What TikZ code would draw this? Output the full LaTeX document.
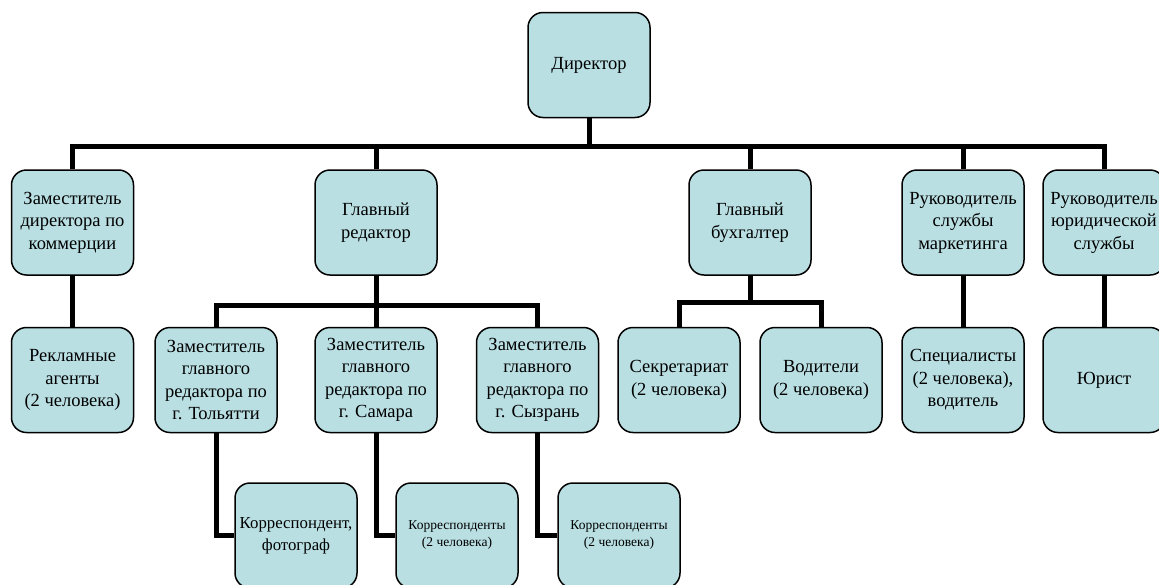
\documentclass[tikz,border=0pt]{standalone}
\usepackage{fontspec}
\setmainfont{Liberation Serif}
\newfontfamily\boxfont{Liberation Serif}
\definecolor{boxfill}{RGB}{185,223,227}
\begin{document}
\begin{tikzpicture}[x=1pt,y=-1pt,
  box/.style={draw=black, line width=1.5pt, fill=boxfill, rounded corners=15pt,
    minimum width=122pt, minimum height=105pt, inner sep=1pt, align=center,
    font=\boxfont\fontsize{18.5}{22.5}\selectfont},
  midbox/.style={box, font=\boxfont\fontsize{16.8}{22}\selectfont},
  smallbox/.style={box, font=\boxfont\fontsize{13.5}{17}\selectfont},
  conn/.style={line width=5pt, line join=miter}]
\useasboundingbox (0,0) rectangle (1159,584);
\fill[white] (0,0) rectangle (1159,584);
\coordinate (b1) at (589,146);
\coordinate (b2) at (376,305);
\coordinate (b3) at (750,302);
% level 0
\node[box] (dir) at (589,65) {Директор};
% level 1
\node[box] (zam) at (72.5,222.5) {Заместитель\\директора по\\коммерции};
\node[box] (gr)  at (376,222.5) {Главный\\редактор};
\node[box] (gb)  at (750,222.5) {Главный\\бухгалтер};
\node[box] (rm)  at (963,222.5) {Руководитель\\службы\\маркетинга};
\node[box] (ry)  at (1104,222.5) {Руководитель\\юридической\\службы};
% level 2
\node[box] (rek) at (72.5,380) {Рекламные\\агенты\\(2 человека)};
\node[box] (tol) at (216,380) {Заместитель\\главного\\редактора по\\г. Тольятти};
\node[box] (sam) at (376,380) {Заместитель\\главного\\редактора по\\г. Самара};
\node[box] (syz) at (537.5,380) {Заместитель\\главного\\редактора по\\г. Сызрань};
\node[box] (sek) at (679,380) {Секретариат\\(2 человека)};
\node[box] (vod) at (821,380) {Водители\\(2 человека)};
\node[box] (spec) at (963,380) {Специалисты\\(2 человека),\\водитель};
\node[box] (yur) at (1104,380) {Юрист};
% level 3
\node[midbox] (c1) at (296,535.5) {Корреспондент,\\фотограф};
\node[smallbox] (c2) at (457,535.5) {Корреспонденты\\(2 человека)};
\node[smallbox] (c3) at (619,535.5) {Корреспонденты\\(2 человека)};
% connectors
\draw[conn] (dir.south) -- (b1);
\draw[conn] (zam.north) |- (b1);
\draw[conn] (gr.north) |- (b1);
\draw[conn] (gb.north) |- (b1);
\draw[conn] (rm.north) |- (b1);
\draw[conn] (ry.north) |- (b1);
\draw[conn] (gr.south) -- (b2);
\draw[conn] (tol.north) |- (b2);
\draw[conn] (sam.north) -- (b2);
\draw[conn] (syz.north) |- (b2);
\draw[conn] (gb.south) -- (b3);
\draw[conn] (sek.north) |- (b3);
\draw[conn] (vod.north) |- (b3);
\draw[conn] (zam.south) -- (rek.north);
\draw[conn] (rm.south) -- (spec.north);
\draw[conn] (ry.south) -- (yur.north);
\draw[conn] (tol.south) |- (c1.west);
\draw[conn] (sam.south) |- (c2.west);
\draw[conn] (syz.south) |- (c3.west);
\end{tikzpicture}
\end{document}
